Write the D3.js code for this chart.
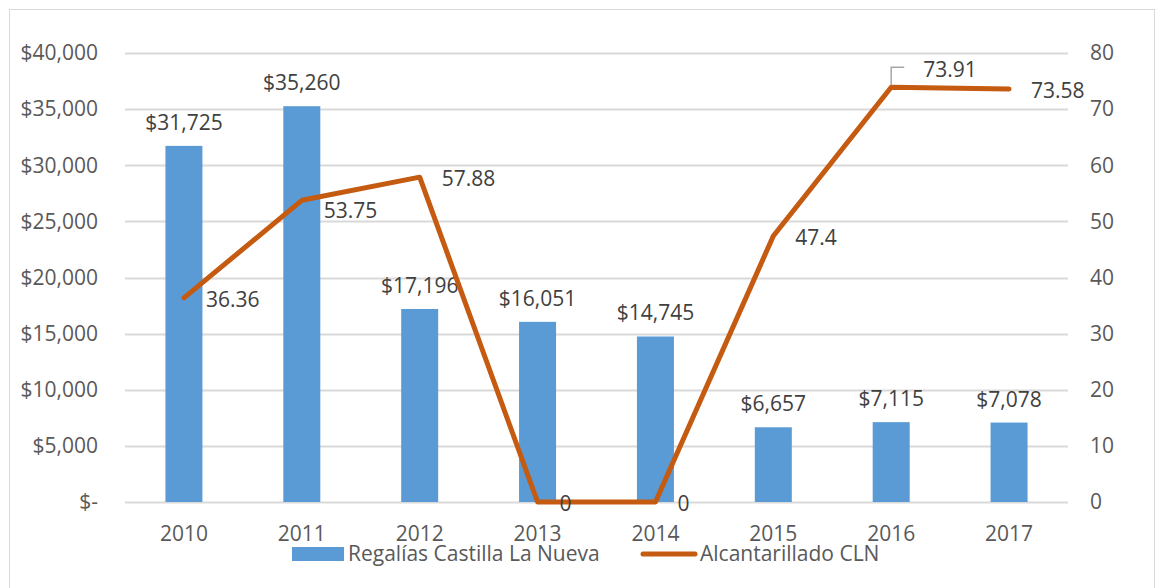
<!DOCTYPE html>
<html>
<head>
<meta charset="utf-8">
<script src="https://cdn.jsdelivr.net/npm/d3@7"></script>
<style>
  body { margin: 0; background: #fff; }
  text { font-family: "Open Sans", "Noto Sans", sans-serif; fill: #404040; }
</style>
</head>
<body>
<svg id="chart" width="1157" height="588"></svg>
<script>
// data
var years = ["2010", "2011", "2012", "2013", "2014", "2015", "2016", "2017"];
var regalias = [31725, 35260, 17196, 16051, 14745, 6657, 7115, 7078];
var alcantarillado = [36.36, 53.75, 57.88, 0, 0, 47.4, 73.91, 73.58];
var leftTicks = [0, 5000, 10000, 15000, 20000, 25000, 30000, 35000, 40000];
var rightTicks = [0, 10, 20, 30, 40, 50, 60, 70, 80];

var svg = d3.select("#chart");
var plot = { left: 125, right: 1068, top: 53, bottom: 502 };

// chart frame
svg.append("rect")
  .attr("x", 9.5).attr("y", 9.5)
  .attr("width", 1145).attr("height", 600)
  .attr("fill", "none").attr("stroke", "#d9d9d9");

var x = d3.scaleBand().domain(years).range([plot.left, plot.right]);
var y = d3.scaleLinear().domain([0, 40000]).range([plot.bottom, plot.top]);
var y2 = d3.scaleLinear().domain([0, 80]).range([plot.bottom, plot.top]);

// gridlines
svg.append("g").selectAll("line")
  .data(leftTicks).enter().append("line")
  .attr("x1", plot.left).attr("x2", plot.right)
  .attr("y1", function(d){ return Math.round(y(d)) + 0.5; })
  .attr("y2", function(d){ return Math.round(y(d)) + 0.5; })
  .attr("stroke", "#d9d9d9").attr("stroke-width", 2);

// left axis labels
var fmt = d3.format(",");
svg.append("g").selectAll("text")
  .data(leftTicks).enter().append("text")
  .attr("x", 98).attr("y", function(d){ return y(d); })
  .attr("dy", "0.35em").attr("text-anchor", "end")
  .style("font-size", "21px").style("fill", "#595959")
  .text(function(d){ return d === 0 ? "$-" : "$" + fmt(d); });

// right axis labels
svg.append("g").selectAll("text")
  .data(rightTicks).enter().append("text")
  .attr("x", 1090).attr("y", function(d){ return y2(d); })
  .attr("dy", "0.35em")
  .style("font-size", "21px").style("fill", "#595959")
  .text(function(d){ return d; });

// x labels
svg.append("g").selectAll("text")
  .data(years).enter().append("text")
  .attr("x", function(d){ return x(d) + x.bandwidth() / 2; })
  .attr("y", 541).attr("text-anchor", "middle")
  .style("font-size", "21px").style("fill", "#595959")
  .text(function(d){ return d; });

// bars
var barW = 37;
svg.append("g").selectAll("rect")
  .data(regalias).enter().append("rect")
  .attr("x", function(d, i){ return x(years[i]) + x.bandwidth() / 2 - barW / 2; })
  .attr("y", function(d){ return y(d); })
  .attr("width", barW)
  .attr("height", function(d){ return plot.bottom - y(d); })
  .attr("fill", "#5b9bd5");

// bar labels
svg.append("g").selectAll("text")
  .data(regalias).enter().append("text")
  .attr("x", function(d, i){ return x(years[i]) + x.bandwidth() / 2; })
  .attr("y", function(d){ return y(d) - 16; })
  .attr("text-anchor", "middle")
  .style("font-size", "21px")
  .text(function(d){ return "$" + fmt(d); });

// line
var line = d3.line()
  .x(function(d, i){ return x(years[i]) + x.bandwidth() / 2; })
  .y(function(d){ return y2(d); });

svg.append("path")
  .datum(alcantarillado)
  .attr("d", line)
  .attr("fill", "none")
  .attr("stroke", "#c55a11")
  .attr("stroke-width", 5)
  .attr("stroke-linejoin", "round")
  .attr("stroke-linecap", "round");

// line labels (right of the point; 2011 sits a bit lower, 2016 is lifted with a leader)
svg.append("g").selectAll("text")
  .data(alcantarillado).enter().append("text")
  .attr("x", function(d, i){ return x(years[i]) + x.bandwidth() / 2 + (i === 6 ? 32 : 22); })
  .attr("y", function(d, i){ return y2(d) + (i === 1 ? 10 : i === 6 ? -18 : 2); })
  .attr("dy", "0.35em")
  .style("font-size", "21px")
  .text(function(d){ return d; });

// leader for 2016 label
var lx = x("2016") + x.bandwidth() / 2;
svg.append("path")
  .attr("d", "M" + lx + "," + (y2(alcantarillado[6]) - 2) + "V" + (y2(alcantarillado[6]) - 20) + "h13")
  .attr("fill", "none").attr("stroke", "#a6a6a6").attr("stroke-width", 1.5);

// legend
var lg = svg.append("g");
lg.append("rect").attr("x", 292).attr("y", 547).attr("width", 52).attr("height", 14).attr("fill", "#5b9bd5");
lg.append("text").attr("x", 348).attr("y", 554).attr("dy", "0.35em")
  .style("font-size", "21px").style("fill", "#595959").text("Regalías Castilla La Nueva");
lg.append("line").attr("x1", 643).attr("x2", 695).attr("y1", 554).attr("y2", 554)
  .attr("stroke", "#c55a11").attr("stroke-width", 5).attr("stroke-linecap", "round");
lg.append("text").attr("x", 700).attr("y", 554).attr("dy", "0.35em")
  .style("font-size", "21px").style("fill", "#595959").text("Alcantarillado CLN");
</script>
</body>
</html>
